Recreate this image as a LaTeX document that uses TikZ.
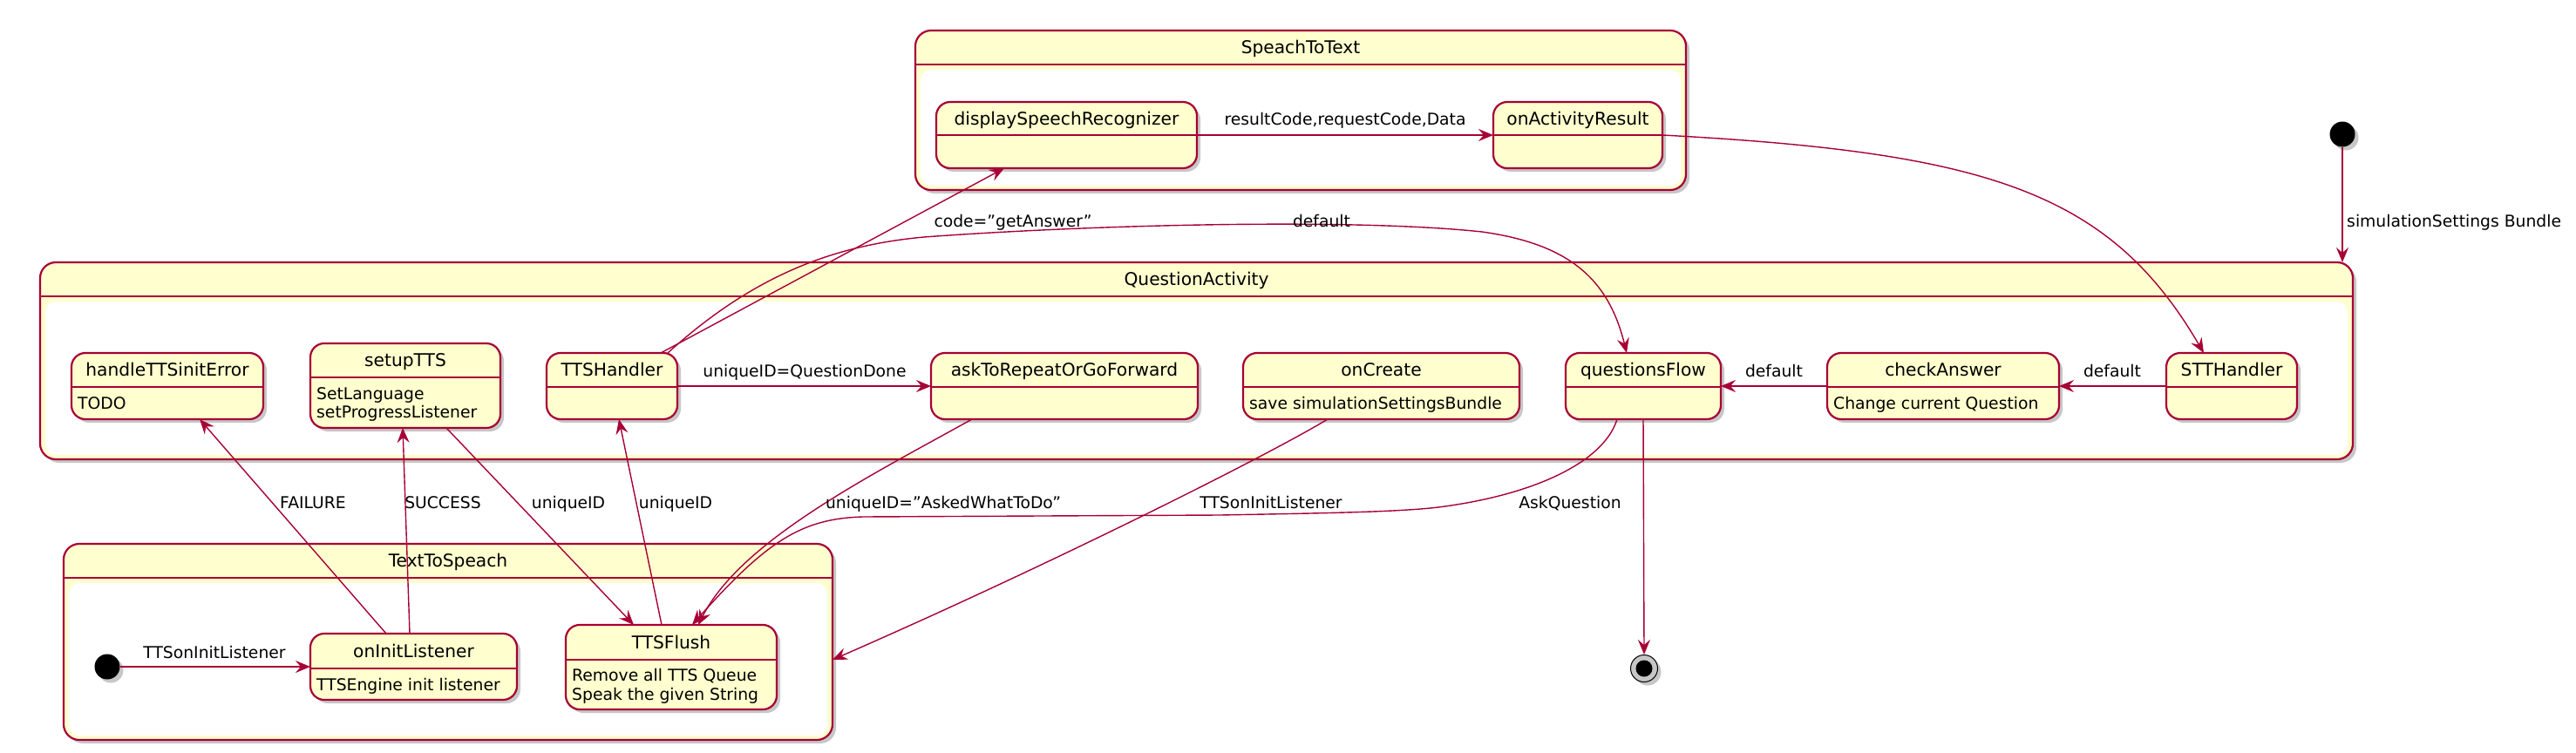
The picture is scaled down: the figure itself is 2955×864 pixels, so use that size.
\documentclass[tikz,border=0pt]{standalone}
\usepackage{fontspec}
\setmainfont{DejaVu Sans}
\usetikzlibrary{arrows.meta,shadows,calc}
\definecolor{pborder}{HTML}{A80036}
\definecolor{pfill}{HTML}{FEFECE}
\newcommand\nmfont{\fontsize{20.2}{24}\selectfont}
\newcommand\lbfont{\fontsize{18.75}{22}\selectfont}
\tikzset{
  pshadow/.style={drop shadow={shadow xshift=4pt, shadow yshift=-4pt, opacity=0.22, fill=black}},
  stnode/.style={draw=pborder, line width=2.2pt, fill=pfill, rounded corners=16pt, inner sep=0pt, outer sep=0pt, pshadow},
  ctnode/.style={draw=pborder, line width=2.2pt, fill=pfill, rounded corners=18pt, inner sep=0pt, outer sep=0pt, pshadow},
  sepline/.style={draw=pborder, line width=2.2pt},
  titletext/.style={font=\nmfont, inner sep=0pt, anchor=base},
  attrtext/.style={font=\lbfont, inner sep=0pt, anchor=base west},
  lbl/.style={font=\lbfont, inner sep=0pt, anchor=base},
  tr/.style={draw=pborder, line width=1.4pt, -{Stealth[length=17pt,width=14pt,inset=6pt]}},
}
\newcommand\stbox[7]{%
  \node[stnode, minimum width={#4-#2}, minimum height={#5-#3}] (#1) at ({(#2+#4)/2},{(#3+#5)/2}) {};
  \draw[sepline] (#2,#6) -- (#4,#6);
  \node[titletext] (#1-t) at ({(#2+#4)/2},{(#3+#6)/2+7.4}) {#7};
}
\newcommand\ctbox[7]{%
  \node[ctnode, minimum width={#4-#2}, minimum height={#5-#3}] (#1) at ({(#2+#4)/2},{(#3+#5)/2}) {};
  \draw[sepline] (#2,#6) -- (#4,#6);
  \fill[white, rounded corners=12pt] ({#2+6},{#6+6}) rectangle ({#4-6},{#5-5});
  \node[titletext] (#1-t) at ({(#2+#4)/2},{(#3+#6)/2+7.4}) {#7};
}
\begin{document}
\begin{tikzpicture}[x=1pt, y=-1pt]
\fill[white] (0,0) rectangle (2955,864);
\useasboundingbox (0,0) rectangle (2955,864);

% containers
\ctbox{stt}{1050}{35}{1934}{218}{74}{SpeachToText}
\ctbox{qa}{46}{301}{2699}{527}{340}{QuestionActivity}
\ctbox{ttsc}{73}{624}{955}{849}{663}{TextToSpeach}

% states in SpeachToText
\stbox{dsr}{1074}{117}{1373}{193}{155}{displaySpeechRecognizer}
\stbox{oa}{1713}{117}{1907}{193}{155}{onActivityResult}

% states in QuestionActivity
\stbox{he}{82}{405}{302}{481}{444}{handleTTSinitError}
\node[attrtext] (he-a1) at (89,469) {TODO};
\stbox{st}{356}{394}{574}{491}{433}{setupTTS}
\node[attrtext] (st-a1) at (363,458) {SetLanguage};
\node[attrtext] (st-a2) at (363,479) {setProgressListener};
\stbox{th}{627}{405}{777}{481}{444}{TTSHandler}
\stbox{ar}{1068}{405}{1374}{481}{444}{askToRepeatOrGoForward}
\stbox{oc}{1426}{405}{1743}{481}{444}{onCreate}
\node[attrtext] (oc-a1) at (1433,469) {save simulationSettingsBundle};
\stbox{qf}{1796}{405}{1974}{481}{444}{questionsFlow}
\stbox{ca}{2096}{405}{2362}{481}{444}{checkAnswer}
\node[attrtext] (ca-a1) at (2103,469) {Change current Question};
\stbox{sh}{2485}{405}{2635}{481}{444}{STTHandler}

% states in TextToSpeach
\node[circle, fill=black, minimum size=29pt, inner sep=0pt, pshadow] (init2) at (123,765) {};
\stbox{oil}{356}{727}{593}{803}{767}{onInitListener}
\node[attrtext] (oil-a1) at (363,792) {TTSEngine init listener};
\stbox{tf}{649}{717}{891}{814}{757}{TTSFlush}
\node[attrtext] (tf-a1) at (656,781) {Remove all TTS Queue};
\node[attrtext] (tf-a2) at (656,803) {Speak the given String};

% top-level initial and final
\node[circle, fill=black, minimum size=29pt, inner sep=0pt, pshadow] (init1) at (2687,154) {};
\node[circle, draw=black, line width=1pt, fill=gray!45, minimum size=31pt, inner sep=0pt, pshadow] (fin) at (1886,767) {};
\node[circle, fill=black, minimum size=19pt, inner sep=0pt] (finin) at (fin) {};

% transitions
\draw[tr] (init1) -- (init1 |- qa.north);
\node[lbl, anchor=base west] (l-sim) at (2692,260) {simulationSettings Bundle};

\draw[tr] (dsr.east) -- (oa.west);
\node[lbl] (l-rc) at (1543,144) {resultCode,requestCode,Data};

\draw[tr] (oa.east) .. controls (2280,175) and (2420,220) .. ([xshift=-32pt]sh.north);

\draw[tr] (sh.west) -- (ca.east);
\node[lbl] (l-d2) at (2423,432) {default};
\draw[tr] (ca.west) -- (qf.east);
\node[lbl] (l-d1) at (2035,432) {default};

\draw[tr] (qf.south) -- (fin.north);

\draw[tr] ([xshift=-30pt]qf.south) .. controls (1840,530) and (1760,568) .. (1650,582)
  .. controls (1600,588) and (1500,589) .. (1400,591) -- (990,593)
  .. controls (920,595) and (880,620) .. ([xshift=24pt]tf.north);
\node[lbl] (l-ask) at (1801,583) {AskQuestion};

\draw[tr] ([xshift=56pt]th.north) -- ([xshift=-71.5pt]dsr.south);
\node[lbl] (l-ga) at (1162,260) {code="getAnswer"};

\draw[tr] ([xshift=64pt]th.north) .. controls (860,320) and (950,282) .. (1060,272)
  .. controls (1250,258) and (1550,250) .. (1700,266)
  .. controls (1800,280) and (1845,320) .. ([xshift=-19pt]qf.north);
\node[lbl] (l-d0) at (1516,260) {default};

\draw[tr] (th.east) -- (ar.west);
\node[lbl] (l-qd) at (923,432) {uniqueID=QuestionDone};

\draw[tr] ([xshift=-106pt]ar.south) .. controls (1000,545) and (850,620) .. ([xshift=31pt]tf.north);
\node[lbl] (l-aw) at (1082,583) {uniqueID="AskedWhatToDo"};

\draw[tr] ([xshift=-61.5pt]oc.south) .. controls (1450,525) and (1200,650) .. ([yshift=-20.5pt]ttsc.east);
\node[lbl] (l-ti1) at (1458,583) {TTSonInitListener};

\draw[tr] ([xshift=47pt]st.south) -- ([xshift=-43pt]tf.north);
\node[lbl] (l-u1) at (652,583) {uniqueID};
\draw[tr] ([xshift=-11pt]tf.north) -- ([xshift=8pt]th.south);
\node[lbl] (l-u2) at (775,583) {uniqueID};

\draw[tr] ([xshift=-4.5pt]oil.north) -- ([xshift=-3pt]st.south);
\node[lbl] (l-s) at (508,583) {SUCCESS};
\draw[tr] ([xshift=-31.5pt]oil.north) -- ([xshift=37pt]he.south);
\node[lbl] (l-f) at (359,583) {FAILURE};

\draw[tr] (init2) -- (oil.west);
\node[lbl] (l-ti2) at (246,755) {TTSonInitListener};
\end{tikzpicture}
\end{document}
